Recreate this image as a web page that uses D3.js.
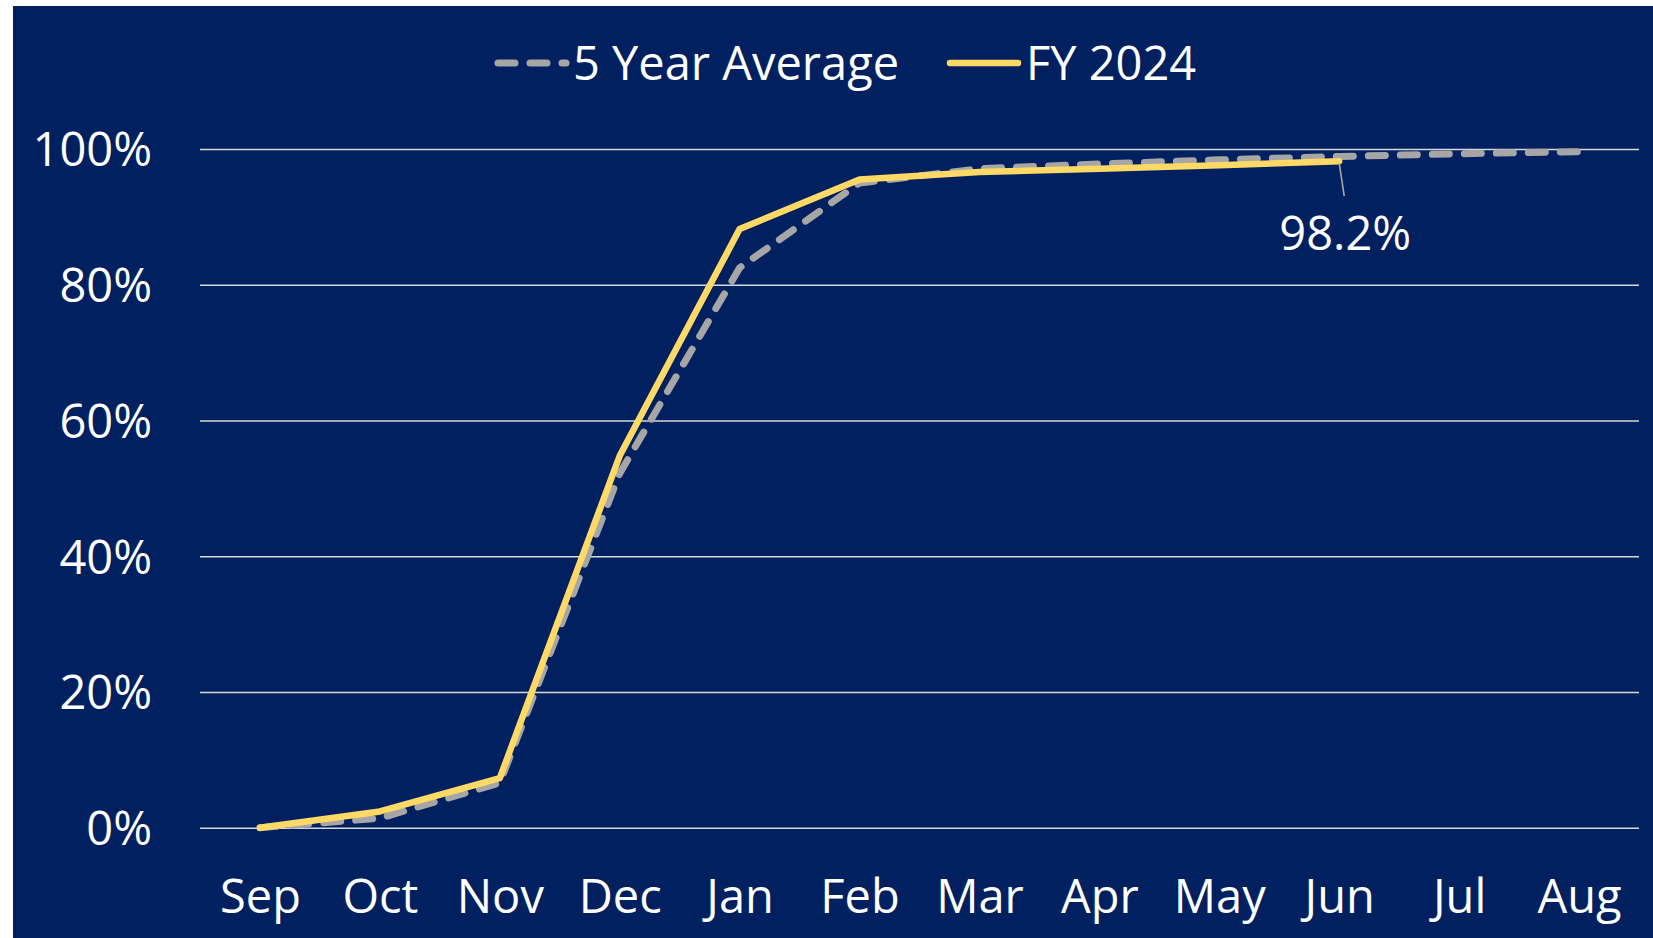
<!DOCTYPE html>
<html>
<head>
<meta charset="utf-8">
<script src="https://cdn.jsdelivr.net/npm/d3@7"></script>
<style>
	html, body { margin: 0; padding: 0; background: #ffffff; }
	svg { display: block; }
	text { font-family: "Open Sans", "Noto Sans", sans-serif; fill: #ffffff; }
</style>
</head>
<body>
<script>
var months = ['Sep', 'Oct', 'Nov', 'Dec', 'Jan', 'Feb', 'Mar', 'Apr', 'May', 'Jun', 'Jul', 'Aug'];
var fiveYearAverage = [0, 0.014, 0.066, 0.522, 0.825, 0.950, 0.971, 0.978, 0.984, 0.989, 0.993, 0.996];
var fy2024 = [0, 0.024, 0.073, 0.548, 0.882, 0.955, 0.966, 0.971, 0.976, 0.982];
var yTicks = [0, 0.2, 0.4, 0.6, 0.8, 1];
var seriesNames = ['5 Year Average', 'FY 2024'];

var width = 1653;
var height = 938;
var navy = '#002060';
var gold = '#FFD966';
var grey = '#A6A6A6';

var svg = d3.select('body').append('svg')
	.attr('width', width)
	.attr('height', height);

svg.append('rect')
	.attr('x', 13)
	.attr('y', 6)
	.attr('width', width - 13)
	.attr('height', height - 6)
	.attr('fill', navy);

var x = d3.scalePoint()
	.domain(months)
	.range([200, 1639])
	.padding(0.5);

var y = d3.scaleLinear()
	.domain([0, 1])
	.range([827.7, 149]);

// gridlines + y labels
var yAxis = svg.append('g')
	.attr('transform', 'translate(200,0)')
	.call(d3.axisLeft(y)
		.tickValues(yTicks)
		.tickSize(-(1639 - 200))
		.tickPadding(48)
		.tickFormat(d3.format('.0%')));

yAxis.select('.domain').remove();
yAxis.selectAll('.tick line')
	.attr('stroke', '#D9D9D9')
	.attr('stroke-width', 1.6);
yAxis.selectAll('.tick text')
	.attr('font-size', 47)
	.attr('fill', '#ffffff')
	.attr('dy', '0.36em')
	.style('font-family', '"Open Sans", sans-serif');

// x labels
var xAxis = svg.append('g')
	.attr('transform', 'translate(0,827.7)')
	.call(d3.axisBottom(x).tickSize(0).tickPadding(52));

xAxis.select('.domain').remove();
xAxis.selectAll('.tick text')
	.attr('font-size', 47)
	.attr('fill', '#ffffff')
	.style('font-family', '"Open Sans", sans-serif');

// lines
var line = d3.line()
	.x(function(d, i) { return x(months[i]); })
	.y(function(d) { return y(d); });

svg.append('path')
	.datum(fiveYearAverage)
	.attr('d', line)
	.attr('fill', 'none')
	.attr('stroke', grey)
	.attr('stroke-width', 7)
	.attr('stroke-linejoin', 'round')
	.attr('stroke-linecap', 'round')
	.attr('stroke-dasharray', '17,15');

svg.append('path')
	.datum(fy2024)
	.attr('d', line)
	.attr('fill', 'none')
	.attr('stroke', gold)
	.attr('stroke-width', 6.5)
	.attr('stroke-linejoin', 'round')
	.attr('stroke-linecap', 'round');

// data label for last FY point
var lastI = fy2024.length - 1;
var lx = x(months[lastI]);
var ly = y(fy2024[lastI]);

svg.append('line')
	.attr('x1', lx)
	.attr('y1', ly + 2)
	.attr('x2', lx + 5)
	.attr('y2', ly + 35)
	.attr('stroke', grey)
	.attr('stroke-width', 1.6);

svg.append('text')
	.attr('x', lx + 6)
	.attr('y', ly + 89)
	.attr('text-anchor', 'middle')
	.attr('font-size', 47)
	.text(d3.format('.1%')(fy2024[lastI]));

// legend
var legend = svg.append('g');

legend.append('line')
	.attr('x1', 498).attr('x2', 566)
	.attr('y1', 63).attr('y2', 63)
	.attr('stroke', grey)
	.attr('stroke-width', 7)
	.attr('stroke-linecap', 'round')
	.attr('stroke-dasharray', '17,15');

legend.append('text')
	.attr('x', 573)
	.attr('y', 63)
	.attr('dy', '0.36em')
	.attr('font-size', 47)
	.text(seriesNames[0]);

legend.append('line')
	.attr('x1', 950).attr('x2', 1018)
	.attr('y1', 63).attr('y2', 63)
	.attr('stroke', gold)
	.attr('stroke-width', 6.5)
	.attr('stroke-linecap', 'round');

legend.append('text')
	.attr('x', 1026)
	.attr('y', 63)
	.attr('dy', '0.36em')
	.attr('font-size', 47)
	.text(seriesNames[1]);
</script>
</body>
</html>
